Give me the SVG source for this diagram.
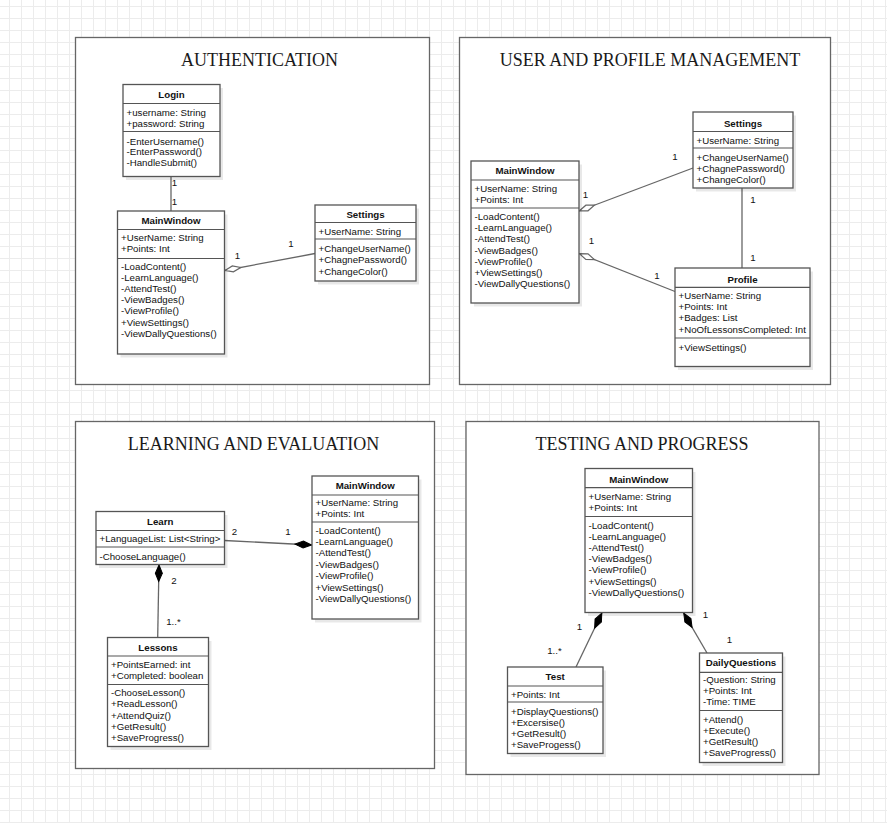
<svg xmlns="http://www.w3.org/2000/svg" width="887" height="823" viewBox="0 0 887 823">
<defs>
<pattern id="grid" x="9" y="6" width="12" height="12" patternUnits="userSpaceOnUse">
<path d="M0,0.5 H12 M0.5,0 V12" stroke="#ececec" stroke-width="1" fill="none"/>
</pattern>
<marker id="aggr" markerWidth="20" markerHeight="10" refX="0" refY="5" orient="auto" markerUnits="userSpaceOnUse" overflow="visible">
<path d="M0.5,5 L8.5,2 L16.5,5 L8.5,8 Z" fill="#fff" stroke="#666" stroke-width="1.2"/>
</marker>
<marker id="comp" markerWidth="20" markerHeight="10" refX="0" refY="5" orient="auto" markerUnits="userSpaceOnUse" overflow="visible">
<path d="M0.5,5 L8.75,1.5 L17,5 L8.75,8.5 Z" fill="#000" stroke="#000" stroke-width="1"/>
</marker>
</defs>
<style>
.panel{fill:#fff;stroke:#666;stroke-width:1.3}
.title{font-family:"Liberation Serif","Times New Roman",serif;font-size:18px;text-anchor:middle;fill:#1a1a1a}
.shadow{fill:#000;opacity:.09}
.box{fill:#fff;stroke:#555;stroke-width:1.3}
.div{stroke:#555;stroke-width:1.2}
.hd{font-family:"Liberation Sans",Arial,sans-serif;font-size:9.7px;font-weight:bold;text-anchor:middle;fill:#111}
.t{font-family:"Liberation Sans",Arial,sans-serif;font-size:9.7px;fill:#111}
.conn{stroke:#666;stroke-width:1.3;fill:none}
.lbl{font-family:"Liberation Sans",Arial,sans-serif;font-size:9.7px;text-anchor:middle;fill:#111}
</style>
<rect width="887" height="823" fill="#fff"/>
<rect width="887" height="823" fill="url(#grid)"/>

<!-- Panels -->
<g id="panel-authentication">
<rect class="panel" x="75.5" y="37.5" width="354" height="347"/>
<text class="title" x="259.5" y="66">AUTHENTICATION</text>
</g>
<g id="panel-user-profile">
<rect class="panel" x="459.5" y="37.5" width="371" height="347"/>
<text class="title" x="650" y="66">USER AND PROFILE MANAGEMENT</text>
</g>
<g id="panel-learning">
<rect class="panel" x="75.5" y="421.5" width="359" height="347"/>
<text class="title" x="253.5" y="450">LEARNING AND EVALUATION</text>
</g>
<g id="panel-testing">
<rect class="panel" x="466" y="421.5" width="353" height="353"/>
<text class="title" x="642" y="450">TESTING AND PROGRESS</text>
</g>

<!-- Connectors -->
<g id="connectors">
<line class="conn" x1="171" y1="176.5" x2="171" y2="211"/>
<path class="conn" d="M224.5,270.5 L315,253.5" marker-start="url(#aggr)"/>
<path class="conn" d="M579,211 L693,168" marker-start="url(#aggr)"/>
<path class="conn" d="M579,253.5 L675,291.5" marker-start="url(#aggr)"/>
<line class="conn" x1="742" y1="188" x2="742" y2="268"/>
<path class="conn" d="M312,545 L224.5,540.5" marker-start="url(#comp)"/>
<path class="conn" d="M159,564.5 L157.7,637.5" marker-start="url(#comp)"/>
<path class="conn" d="M602,612.7 L576,667" marker-start="url(#comp)"/>
<path class="conn" d="M683.5,612.7 L707,653" marker-start="url(#comp)"/>
<text class="lbl" x="174.5" y="185.5">1</text>
<text class="lbl" x="174.5" y="204.5">1</text>
<text class="lbl" x="237.5" y="258.5">1</text>
<text class="lbl" x="291" y="246.5">1</text>
<text class="lbl" x="585.5" y="197.5">1</text>
<text class="lbl" x="675" y="160">1</text>
<text class="lbl" x="591.5" y="243.5">1</text>
<text class="lbl" x="657" y="279">1</text>
<text class="lbl" x="753" y="202.5">1</text>
<text class="lbl" x="753" y="261">1</text>
<text class="lbl" x="234.5" y="535">2</text>
<text class="lbl" x="288" y="535">1</text>
<text class="lbl" x="174" y="583.5">2</text>
<text class="lbl" x="173.5" y="625">1..*</text>
<text class="lbl" x="579.5" y="630">1</text>
<text class="lbl" x="554.5" y="654">1..*</text>
<text class="lbl" x="705.5" y="617.5">1</text>
<text class="lbl" x="729.5" y="642.5">1</text>
</g>

<!-- Panel 1 nodes -->
<g id="auth-login">
<rect class="shadow" x="126" y="88" width="97" height="92"/>
<rect class="box" x="123" y="84.5" width="97" height="92"/>
<line class="div" x1="123" y1="103.5" x2="220" y2="103.5"/>
<line class="div" x1="123" y1="131.5" x2="220" y2="131.5"/>
<text class="hd" x="171.5" y="98">Login</text>
<text class="t" x="126.5" y="116">+username: String</text>
<text class="t" x="126.5" y="126.5">+password: String</text>
<text class="t" x="126.5" y="144.5">-EnterUsername()</text>
<text class="t" x="126.5" y="155">-EnterPassword()</text>
<text class="t" x="126.5" y="165.5">-HandleSubmit()</text>
</g>
<g id="auth-mainwindow">
<rect class="shadow" x="120.5" y="214.5" width="107" height="143"/>
<rect class="box" x="117.5" y="211" width="107" height="143"/>
<line class="div" x1="117.5" y1="229.5" x2="224.5" y2="229.5"/>
<line class="div" x1="117.5" y1="258.5" x2="224.5" y2="258.5"/>
<text class="hd" x="171" y="224">MainWindow</text>
<text class="t" x="121" y="241">+UserName: String</text>
<text class="t" x="121" y="252.2">+Points: Int</text>
<text class="t" x="121" y="269.5">-LoadContent()</text>
<text class="t" x="121" y="280.7">-LearnLanguage()</text>
<text class="t" x="121" y="291.9">-AttendTest()</text>
<text class="t" x="121" y="303.1">-ViewBadges()</text>
<text class="t" x="121" y="314.3">-ViewProfile()</text>
<text class="t" x="121" y="325.5">+ViewSettings()</text>
<text class="t" x="121" y="336.7">-ViewDallyQuestions()</text>
</g>
<g id="auth-settings">
<rect class="shadow" x="318" y="208.5" width="101" height="76"/>
<rect class="box" x="315" y="205" width="101" height="76"/>
<line class="div" x1="315" y1="222.5" x2="416" y2="222.5"/>
<line class="div" x1="315" y1="239" x2="416" y2="239"/>
<text class="hd" x="365.5" y="218">Settings</text>
<text class="t" x="318.5" y="234.5">+UserName: String</text>
<text class="t" x="318.5" y="251.5">+ChangeUserName()</text>
<text class="t" x="318.5" y="263">+ChagnePassword()</text>
<text class="t" x="318.5" y="274.5">+ChangeColor()</text>
</g>

<!-- Panel 2 nodes -->
<g id="user-mainwindow">
<rect class="shadow" x="474" y="164.5" width="108" height="142"/>
<rect class="box" x="471" y="161" width="108" height="142"/>
<line class="div" x1="471" y1="180" x2="579" y2="180"/>
<line class="div" x1="471" y1="208" x2="579" y2="208"/>
<text class="hd" x="525" y="174.2">MainWindow</text>
<text class="t" x="474.5" y="191.8">+UserName: String</text>
<text class="t" x="474.5" y="202.5">+Points: Int</text>
<text class="t" x="474.5" y="220.2">-LoadContent()</text>
<text class="t" x="474.5" y="231.3">-LearnLanguage()</text>
<text class="t" x="474.5" y="242.4">-AttendTest()</text>
<text class="t" x="474.5" y="253.5">-ViewBadges()</text>
<text class="t" x="474.5" y="264.6">-ViewProfile()</text>
<text class="t" x="474.5" y="275.7">+ViewSettings()</text>
<text class="t" x="474.5" y="286.8">-ViewDallyQuestions()</text>
</g>
<g id="user-settings">
<rect class="shadow" x="696" y="115.5" width="100" height="76"/>
<rect class="box" x="693" y="112" width="100" height="76"/>
<line class="div" x1="693" y1="131.5" x2="793" y2="131.5"/>
<line class="div" x1="693" y1="148" x2="793" y2="148"/>
<text class="hd" x="743" y="126.8">Settings</text>
<text class="t" x="696.5" y="143.8">+UserName: String</text>
<text class="t" x="696.5" y="160.8">+ChangeUserName()</text>
<text class="t" x="696.5" y="172">+ChagnePassword()</text>
<text class="t" x="696.5" y="183.3">+ChangeColor()</text>
</g>
<g id="user-profile">
<rect class="shadow" x="678" y="271.5" width="135" height="98.5"/>
<rect class="box" x="675" y="268" width="135" height="98.5"/>
<line class="div" x1="675" y1="287.3" x2="810" y2="287.3"/>
<line class="div" x1="675" y1="338" x2="810" y2="338"/>
<text class="hd" x="742.5" y="282.5">Profile</text>
<text class="t" x="678.5" y="299.2">+UserName: String</text>
<text class="t" x="678.5" y="310.3">+Points: Int</text>
<text class="t" x="678.5" y="321.4">+Badges: List</text>
<text class="t" x="678.5" y="332.5">+NoOfLessonsCompleted: Int</text>
<text class="t" x="678.5" y="350.8">+ViewSettings()</text>
</g>

<!-- Panel 3 nodes -->
<g id="learn-learn">
<rect class="shadow" x="99" y="515" width="128.5" height="53"/>
<rect class="box" x="96" y="511.5" width="128.5" height="53"/>
<line class="div" x1="96" y1="530.5" x2="224.5" y2="530.5"/>
<line class="div" x1="96" y1="547" x2="224.5" y2="547"/>
<text class="hd" x="160.2" y="525.2">Learn</text>
<text class="t" x="99.5" y="541.8">+LanguageList: List&lt;String&gt;</text>
<text class="t" x="99.5" y="559.5">-ChooseLanguage()</text>
</g>
<g id="learn-mainwindow">
<rect class="shadow" x="315" y="479.5" width="106.5" height="143"/>
<rect class="box" x="312" y="476" width="106.5" height="143"/>
<line class="div" x1="312" y1="495" x2="418.5" y2="495"/>
<line class="div" x1="312" y1="522" x2="418.5" y2="522"/>
<text class="hd" x="365.2" y="489.2">MainWindow</text>
<text class="t" x="315.5" y="505.8">+UserName: String</text>
<text class="t" x="315.5" y="517.2">+Points: Int</text>
<text class="t" x="315.5" y="533.5">-LoadContent()</text>
<text class="t" x="315.5" y="544.9">-LearnLanguage()</text>
<text class="t" x="315.5" y="556.3">-AttendTest()</text>
<text class="t" x="315.5" y="567.7">-ViewBadges()</text>
<text class="t" x="315.5" y="579.1">-ViewProfile()</text>
<text class="t" x="315.5" y="590.5">+ViewSettings()</text>
<text class="t" x="315.5" y="601.9">-ViewDallyQuestions()</text>
</g>
<g id="learn-lessons">
<rect class="shadow" x="110.5" y="641" width="101" height="109"/>
<rect class="box" x="107.5" y="637.5" width="101" height="109"/>
<line class="div" x1="107.5" y1="656" x2="208.5" y2="656"/>
<line class="div" x1="107.5" y1="684.5" x2="208.5" y2="684.5"/>
<text class="hd" x="158" y="651.2">Lessons</text>
<text class="t" x="111" y="667.8">+PointsEarned: int</text>
<text class="t" x="111" y="679.2">+Completed: boolean</text>
<text class="t" x="111" y="696.2">-ChooseLesson()</text>
<text class="t" x="111" y="707.4">+ReadLesson()</text>
<text class="t" x="111" y="718.6">+AttendQuiz()</text>
<text class="t" x="111" y="729.8">+GetResult()</text>
<text class="t" x="111" y="741">+SaveProgress()</text>
</g>

<!-- Panel 4 nodes -->
<g id="test-mainwindow">
<rect class="shadow" x="588" y="472" width="107.5" height="144"/>
<rect class="box" x="585" y="468.5" width="107.5" height="144"/>
<line class="div" x1="585" y1="487.7" x2="692.5" y2="487.7"/>
<line class="div" x1="585" y1="516.5" x2="692.5" y2="516.5"/>
<text class="hd" x="638.7" y="482.5">MainWindow</text>
<text class="t" x="588.5" y="499.5">+UserName: String</text>
<text class="t" x="588.5" y="510.8">+Points: Int</text>
<text class="t" x="588.5" y="528.5">-LoadContent()</text>
<text class="t" x="588.5" y="539.7">-LearnLanguage()</text>
<text class="t" x="588.5" y="550.9">-AttendTest()</text>
<text class="t" x="588.5" y="562.1">-ViewBadges()</text>
<text class="t" x="588.5" y="573.3">-ViewProfile()</text>
<text class="t" x="588.5" y="584.5">+ViewSettings()</text>
<text class="t" x="588.5" y="595.7">-ViewDallyQuestions()</text>
</g>
<g id="test-test">
<rect class="shadow" x="510.5" y="670.5" width="95.5" height="86.5"/>
<rect class="box" x="507.5" y="667" width="95.5" height="86.5"/>
<line class="div" x1="507.5" y1="686" x2="603" y2="686"/>
<line class="div" x1="507.5" y1="702" x2="603" y2="702"/>
<text class="hd" x="555.2" y="680.2">Test</text>
<text class="t" x="511" y="697.5">+Points: Int</text>
<text class="t" x="511" y="714.5">+DisplayQuestions()</text>
<text class="t" x="511" y="725.8">+Excersise()</text>
<text class="t" x="511" y="737">+GetResult()</text>
<text class="t" x="511" y="748.2">+SaveProgess()</text>
</g>
<g id="test-dailyquestions">
<rect class="shadow" x="702.5" y="656.5" width="83" height="109.5"/>
<rect class="box" x="699.5" y="653" width="83" height="109.5"/>
<line class="div" x1="699.5" y1="672.3" x2="782.5" y2="672.3"/>
<line class="div" x1="699.5" y1="710.5" x2="782.5" y2="710.5"/>
<text class="hd" x="741" y="666.2">DailyQuestions</text>
<text class="t" x="703" y="682.8">-Question: String</text>
<text class="t" x="703" y="694.2">+Points: Int</text>
<text class="t" x="703" y="705.2">-Time: TIME</text>
<text class="t" x="703" y="722.8">+Attend()</text>
<text class="t" x="703" y="734.2">+Execute()</text>
<text class="t" x="703" y="745.2">+GetResult()</text>
<text class="t" x="703" y="756.2">+SaveProgress()</text>
</g>
</svg>
